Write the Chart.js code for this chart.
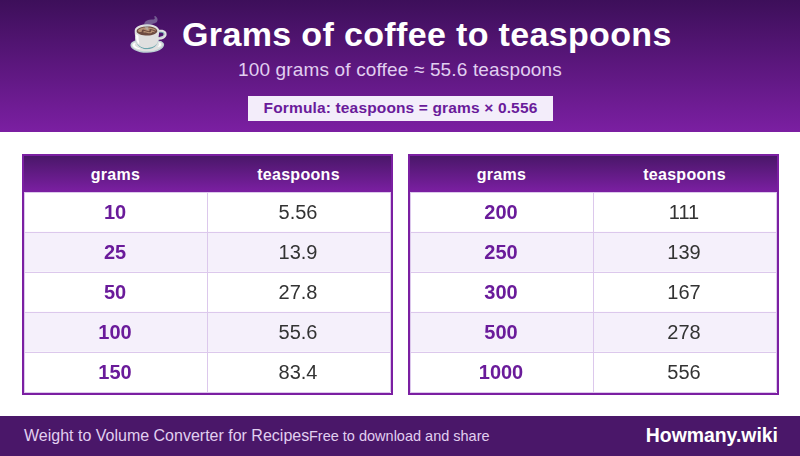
<!DOCTYPE html>
<html>
<head>
<meta charset="utf-8">
<title>Grams of coffee to teaspoons</title>
<script src="https://cdn.jsdelivr.net/npm/chart.js@4"></script>
<style>
  * { box-sizing: border-box; margin: 0; padding: 0; }
  body { width: 800px; height: 456px; position: relative; overflow: hidden; background: #fff; font-family: "Liberation Sans", Arial, sans-serif; }
  #top { position: absolute; left: 0; top: 0; width: 800px; height: 132px; background: linear-gradient(#3d0f5a, #7b1fa2); text-align: center; }
  #top h1 { position: absolute; left: 0; width: 800px; top: 13px; font-size: 34px; line-height: 42px; color: #fff; letter-spacing: 0.35px; }
  #top h1 span { font-size: 33px; letter-spacing: 0; margin-right: 3px; }
  #top p { position: absolute; left: 0; width: 800px; top: 59px; font-size: 19px; letter-spacing: 0.15px; line-height: 22px; color: #e1cff0; }
  #formula { position: absolute; left: 248px; top: 96px; width: 305px; height: 25px; background: #f3edfa; color: #6a1b9a; font-size: 15.5px; letter-spacing: 0.15px; font-weight: bold; line-height: 24px; }
  .frame { position: absolute; top: 154px; width: 371px; height: 241px; border: 2px solid #7b1fa2; }
  .head { position: absolute; left: 0; top: 0; width: 367px; height: 36px; background: linear-gradient(#4a1769, #7b1fa2); color: #fff; font-size: 16px; letter-spacing: 0.3px; font-weight: bold; line-height: 37px; text-align: center; }
  .head span { float: left; width: 183px; }
  .frame canvas { position: absolute; left: 0; top: 36px; }
  #foot { position: absolute; left: 0; top: 416px; width: 800px; height: 40px; background: #4a1769; color: #e1cff0; line-height: 40px; }
  #foot span { position: absolute; white-space: nowrap; }
</style>
</head>
<body>
<div id="top">
  <h1><span>☕</span> Grams of coffee to teaspoons</h1>
  <p>100 grams of coffee ≈ 55.6 teaspoons</p>
  <div id="formula">Formula: teaspoons = grams × 0.556</div>
</div>
<div class="frame" style="left:22px"><div class="head"><span>grams</span><span>teaspoons</span></div><canvas id="left" width="367" height="201"></canvas></div>
<div class="frame" style="left:408px"><div class="head"><span>grams</span><span>teaspoons</span></div><canvas id="right" width="367" height="201"></canvas></div>
<div id="foot">
  <span style="left:24px;font-size:16px">Weight to Volume Converter for Recipes</span>
  <span style="left:309px;font-size:14.5px">Free to download and share</span>
  <span style="right:22px;top:-1px;font-size:19.4px;font-weight:bold;color:#fff">Howmany.wiki</span>
</div>
<script>
const gramsLeft = [10, 25, 50, 100, 150];
const teaspoonsLeft = [5.56, 13.9, 27.8, 55.6, 83.4];
const gramsRight = [200, 250, 300, 500, 1000];
const teaspoonsRight = [111, 139, 167, 278, 556];
const rowColors = ["#ffffff", "#f5f0fb", "#ffffff", "#f5f0fb", "#ffffff"];

// writes the two value columns into the rows, centred on the library's scales
const cellText = {
  id: "cellText",
  afterDraw(chart) {
    const { ctx, scales } = chart;
    const teaspoons = chart.data.datasets[0].teaspoons;
    ctx.save();
    ctx.textAlign = "center";
    ctx.textBaseline = "middle";
    chart.data.labels.forEach((g, i) => {
      const y = scales.y.getPixelForValue(i) + 1;
      ctx.font = "bold 20px 'Liberation Sans'";
      ctx.fillStyle = "#6a1b9a";
      ctx.fillText(String(g), scales.x.getPixelForValue(0.5) - 0.5, y);
      ctx.font = "20px 'Liberation Sans'";
      ctx.fillStyle = "#333333";
      ctx.fillText(String(teaspoons[i]), scales.x.getPixelForValue(1.5) - 0.5, y);
    });
    ctx.restore();
  }
};

function makeTable(id, grams, teaspoons) {
  new Chart(document.getElementById(id), {
    type: "bar",
    data: {
      labels: grams,
      datasets: [{
        data: grams.map(() => [0, 2]),
        teaspoons: teaspoons,
        backgroundColor: rowColors,
        barPercentage: 1,
        categoryPercentage: 1
      }]
    },
    options: {
      indexAxis: "y",
      responsive: false,
      animation: false,
      layout: { padding: { right: 1, bottom: 1 } },
      plugins: { legend: { display: false }, tooltip: { enabled: false } },
      scales: {
        x: {
          min: 0, max: 2,
          ticks: { display: false, stepSize: 1 },
          border: { display: false },
          grid: { color: "#dcc8ec", drawTicks: false, z: 1 }
        },
        y: {
          ticks: { display: false },
          border: { display: false },
          grid: { color: "#dcc8ec", drawTicks: false, z: 1, offset: true }
        }
      }
    },
    plugins: [cellText]
  });
}

makeTable("left", gramsLeft, teaspoonsLeft);
makeTable("right", gramsRight, teaspoonsRight);
</script>
</body>
</html>
